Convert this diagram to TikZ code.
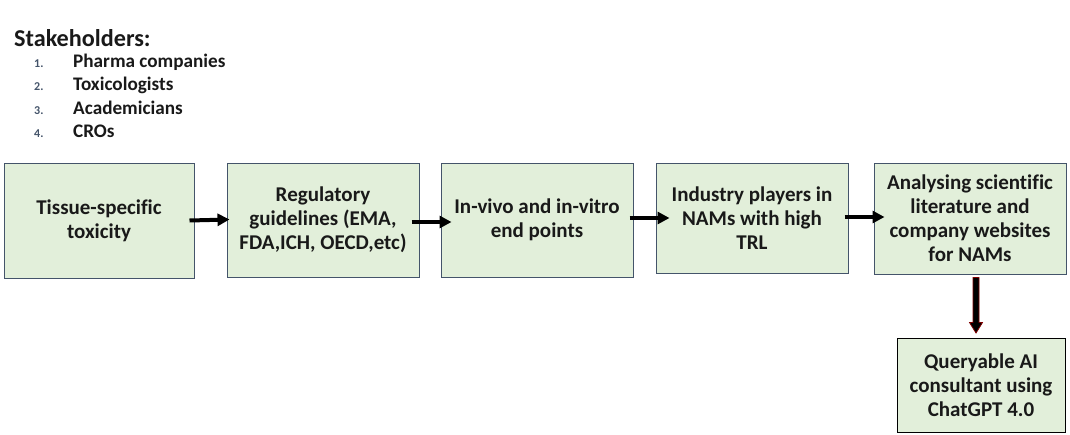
\documentclass[tikz,border=0pt]{standalone}
\usepackage{fontspec}
\setmainfont{Carlito}[Ligatures=NoCommon]
\usetikzlibrary{arrows.meta,calc}
\definecolor{boxfill}{RGB}{226,239,218}
\definecolor{boxedge}{RGB}{68,84,106}
\definecolor{numcol}{RGB}{68,84,106}
\definecolor{txt}{RGB}{25,25,25}
\definecolor{darkred}{RGB}{128,0,0}
\tikzset{
  stepbox/.style={draw=boxedge, fill=boxfill, line width=1pt, inner sep=0pt,
    align=center, text=txt, font=\fontsize{21}{24}\selectfont\bfseries},
  flowarrow/.style={line width=4pt, -{Triangle[length=12pt,width=12pt]}},
  numlabel/.style={anchor=base west, text=numcol, font=\fontsize{12}{14}\selectfont\bfseries, inner sep=0pt},
  itemlabel/.style={anchor=base west, text=txt, font=\fontsize{19.2}{22}\selectfont\bfseries, inner sep=0pt},
}
\begin{document}
\begin{tikzpicture}[x=1pt,y=-1pt]
\useasboundingbox (0,0) rectangle (1070,434);
% heading and list
\node[anchor=base west, inner sep=0pt, text=txt, font=\fontsize{24.2}{28}\selectfont\bfseries] (head) at (14,46) {Stakeholders:};
\node[numlabel] (n1) at (34,67) {1.};
\node[itemlabel] (i1) at (73,67) {Pharma companies};
\node[numlabel] (n2) at (34,90.5) {2.};
\node[itemlabel] (i2) at (73,90.5) {Toxicologists};
\node[numlabel] (n3) at (34,114) {3.};
\node[itemlabel] (i3) at (73,114) {Academicians};
\node[numlabel] (n4) at (34,137.5) {4.};
\node[itemlabel] (i4) at (73,137.5) {CROs};
% boxes
\node[stepbox, minimum width=190pt, minimum height=115pt] (b1) at (99,220.5) {Tissue-specific\\toxicity};
\node[stepbox, minimum width=192pt, minimum height=114pt] (b2) at (323,220) {Regulatory\\guidelines (EMA,\\FDA,ICH, OECD,etc)};
\node[stepbox, minimum width=192pt, minimum height=114pt] (b3) at (537,220) {In-vivo and in-vitro\\end points};
\node[stepbox, minimum width=192pt, minimum height=110pt] (b4) at (752,218) {Industry players in\\NAMs with high\\TRL};
\node[stepbox, minimum width=192pt, minimum height=111pt] (b5) at (970,218.5) {Analysing scientific\\literature and\\company websites\\for NAMs};
\node[stepbox, draw=black, minimum width=168pt, minimum height=94pt] (b6) at (981,385) {Queryable AI\\consultant using\\ChatGPT 4.0};
% horizontal arrows
\draw[flowarrow] ([xshift=-5pt]b1.east) -- ([xshift=3pt,yshift=0.5pt]b2.west);
\draw[flowarrow] ([xshift=-8pt,yshift=-2pt]b2.east) -- ([xshift=11pt,yshift=-2pt]b3.west);
\draw[flowarrow] ([xshift=-4pt,yshift=2pt]b3.east) -- ([xshift=14pt]b4.west);
\draw[flowarrow] ([xshift=-4pt,yshift=1pt]b4.east) -- ([xshift=11pt,yshift=1.5pt]b5.west);
% down block arrow
\coordinate (ds) at ([xshift=6pt,yshift=-3pt]b5.south);
\coordinate (dt) at ([xshift=-5pt,yshift=5pt]b6.north);
\draw[darkred, fill=black, line width=0.8pt]
  ($(ds)+(-3,0)$) -- ($(ds)+(3,0)$) -- ($(ds)+(3,45)$) -- ($(ds)+(6.5,45)$)
  -- (dt |- 0,333) -- ($(ds)+(-6.5,45)$) -- ($(ds)+(-3,45)$) -- cycle;
\end{tikzpicture}
\end{document}
